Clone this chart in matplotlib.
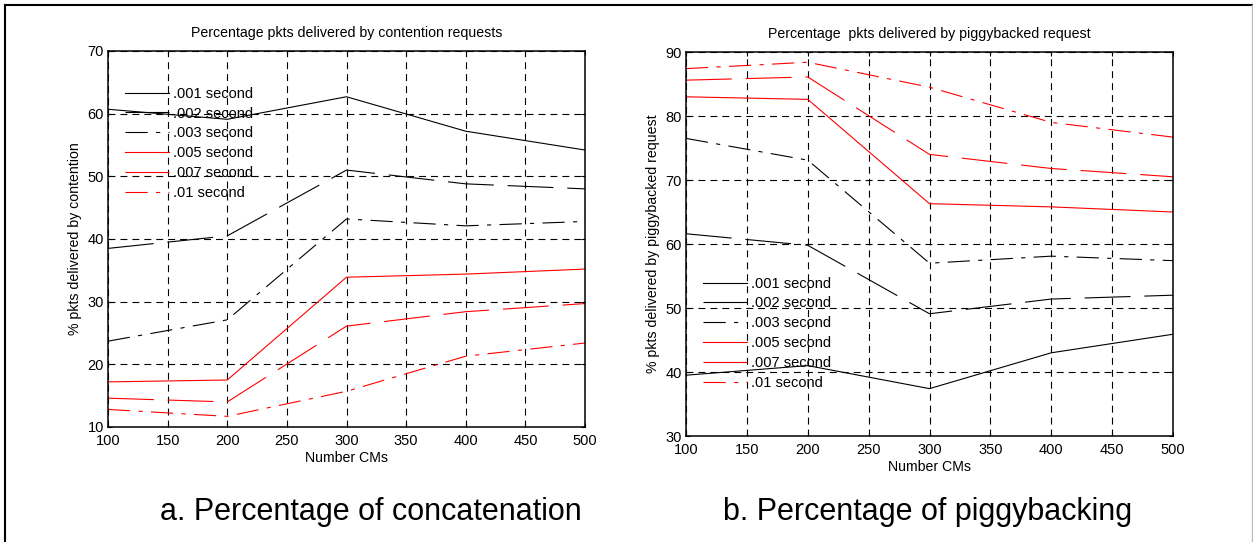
import matplotlib
matplotlib.use("Agg")
import matplotlib.pyplot as plt
from matplotlib.lines import Line2D

plt.rcParams['font.family'] = ['Liberation Sans', 'DejaVu Sans']
plt.rcParams['lines.scale_dashes'] = False

# ---------------- data ----------------
cms = [100, 200, 300, 400, 500]
series_labels = ['.001 second', '.002 second', '.003 second',
                 '.005 second', '.007 second', '.01 second']

contention = {
    '.001 second': [60.7, 59.1, 62.7, 57.2, 54.2],
    '.002 second': [38.5, 40.5, 51.0, 48.8, 48.0],
    '.003 second': [23.7, 27.1, 43.2, 42.1, 42.8],
    '.005 second': [17.2, 17.5, 33.9, 34.4, 35.2],
    '.007 second': [14.6, 14.0, 26.1, 28.4, 29.7],
    '.01 second':  [12.8, 11.7, 15.7, 21.3, 23.4],
}
piggyback = {
    '.001 second': [39.5, 41.0, 37.4, 43.0, 45.9],
    '.002 second': [61.6, 59.8, 49.1, 51.4, 52.0],
    '.003 second': [76.5, 73.1, 57.0, 58.1, 57.4],
    '.005 second': [83.0, 82.6, 66.3, 65.8, 65.0],
    '.007 second': [85.6, 86.1, 74.0, 71.8, 70.5],
    '.01 second':  [87.4, 88.4, 84.5, 79.0, 76.7],
}

xticks = [100, 150, 200, 250, 300, 350, 400, 450, 500]
left_yticks = [10, 20, 30, 40, 50, 60, 70]
right_yticks = [30, 40, 50, 60, 70, 80, 90]

left_title = 'Percentage pkts delivered by contention requests'
right_title = 'Percentage  pkts delivered by piggybacked request'
left_ylabel = '% pkts delivered by contention'
right_ylabel = '% pkts delivered by piggybacked request'
xlabel = 'Number CMs'
left_caption = 'a. Percentage of concatenation'
right_caption = 'b. Percentage of piggybacking'

# ---------------- styles ----------------
DASH = (0, (33, 10))
DASHDOT = (0, (16, 6, 3, 6))
styles = {
    '.001 second': ('black', '-'),
    '.002 second': ('black', DASH),
    '.003 second': ('black', DASHDOT),
    '.005 second': ('red', '-'),
    '.007 second': ('red', DASH),
    '.01 second':  ('red', DASHDOT),
}

W, H = 1253, 542
fig = plt.figure(figsize=(W / 100, H / 100), dpi=100)

def fx(px):
    return px / W

def fy(py):
    return 1 - py / H

ax1 = fig.add_axes([fx(108), fy(427), fx(585) - fx(108), fy(51) - fy(427)])
ax2 = fig.add_axes([fx(686), fy(436), fx(1173) - fx(686), fy(52) - fy(436)])

def setup(ax, data, yticks, title, ylabel, leg_anchor):
    handles = []
    for lab in series_labels:
        c, ls = styles[lab]
        h, = ax.plot(cms, data[lab], color=c, linestyle=ls, linewidth=0.8,
                     label=lab)
        handles.append(h)
    ax.set_xlim(xticks[0], xticks[-1])
    ax.set_ylim(yticks[0], yticks[-1])
    ax.set_xticks(xticks)
    ax.set_yticks(yticks)
    ax.grid(True, color='black', linestyle=(0, (5, 3.6)), linewidth=0.8)
    ax.tick_params(direction='in', length=3, labelsize=10.5, pad=3,
                   top=True, right=True)
    ax.tick_params(axis='x', pad=5)
    for s in ax.spines.values():
        s.set_linewidth(1.1)
    ax.set_title(title, fontsize=10.2, pad=10)
    ax.set_xlabel(xlabel, fontsize=10.2, labelpad=2)
    ax.set_ylabel(ylabel, fontsize=10.2, labelpad=4)
    leg = ax.legend(handles=handles, loc='upper left', bbox_to_anchor=leg_anchor,
                    frameon=False, fontsize=10.5, handlelength=3.0,
                    handletextpad=0.3, labelspacing=0.4, borderpad=0,
                    borderaxespad=0)
    return leg

setup(ax1, contention, left_yticks, left_title, left_ylabel, (0.036, 0.905))
setup(ax2, piggyback, right_yticks, right_title, right_ylabel, (0.035, 0.415))

fig.text(fx(371), fy(512), left_caption, fontsize=22, ha='center', va='center')
fig.text(fx(928), fy(512), right_caption, fontsize=22, ha='center', va='center')

# figure border
fig.add_artist(Line2D([fx(5), fx(1252)], [fy(5), fy(5)], color='black', linewidth=1.5))
fig.add_artist(Line2D([fx(5), fx(5)], [fy(5), 0], color='black', linewidth=1.5))
fig.add_artist(Line2D([fx(1252), fx(1252)], [fy(5), 0], color='#bbbbbb', linewidth=1.0))

fig.savefig('out.png', dpi=100)
